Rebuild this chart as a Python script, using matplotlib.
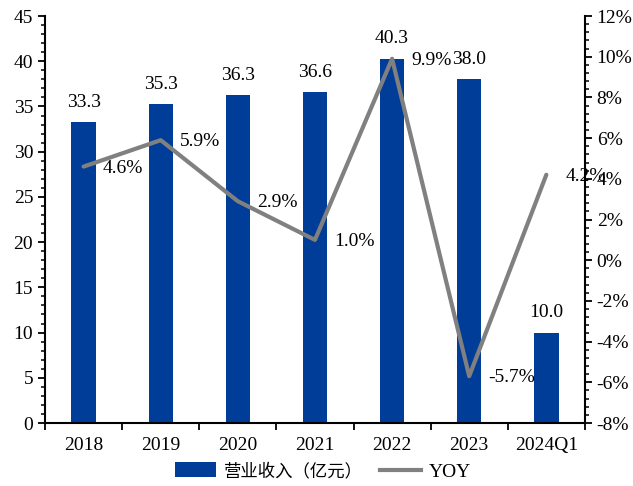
import matplotlib
matplotlib.use("Agg")
import matplotlib.pyplot as plt
from matplotlib.ticker import MultipleLocator, FuncFormatter
from matplotlib.patches import Patch
from matplotlib.lines import Line2D

# ---------------------------------------------------------
# data
# ---------------------------------------------------------
years = ["2018", "2019", "2020", "2021", "2022", "2023", "2024Q1"]
revenue = [33.3, 35.3, 36.3, 36.6, 40.3, 38.0, 10.0]
yoy = [4.6, 5.9, 2.9, 1.0, 9.9, -5.7, 4.2]

plt.rcParams["font.family"] = ["Liberation Serif", "Noto Sans CJK SC"]
plt.rcParams["font.size"] = 14

bar_color = "#003D99"
line_color = "#808080"

fig = plt.figure(figsize=(6.33, 4.86), dpi=100)
ax = fig.add_axes([0.0711, 0.1296, 0.8529, 0.8374])
ax2 = ax.twinx()

x = list(range(len(years)))

# ---------------------------------------------------------
# bars (left axis)
# ---------------------------------------------------------
ax.bar(x, revenue, width=0.316, color=bar_color, zorder=2)
for xi, v in zip(x, revenue):
    ax.annotate(f"{v:.1f}", (xi, v), xytext=(0, 8), textcoords="offset points",
                ha="center", va="bottom", fontsize=14)

ax.set_ylim(0, 45)
ax.set_xlim(-0.5, len(years) - 0.5)
ax.yaxis.set_major_locator(MultipleLocator(5))
ax.yaxis.set_minor_locator(MultipleLocator(1))
ax.set_xticks(x)
ax.set_xticklabels(years)
ax.set_xticks([i - 0.5 for i in range(len(years) + 1)], minor=True)
ax.tick_params(axis="x", which="major", length=0, pad=10, labelsize=14)
ax.tick_params(axis="x", which="minor", length=5, width=1.3, direction="out")
ax.tick_params(axis="y", which="major", length=5, width=1.3, direction="out",
               labelsize=14)
ax.tick_params(axis="y", which="minor", length=3, width=1.1, direction="out")

# ---------------------------------------------------------
# YOY line (right axis)
# ---------------------------------------------------------
ax2.plot(x, yoy, color=line_color, linewidth=3.0, solid_capstyle="round", zorder=3)
for xi, v in zip(x, yoy):
    ax2.annotate(f"{v:.1f}%", (xi, v), xytext=(14, -1), textcoords="offset points",
                 ha="left", va="center", fontsize=14)

ax2.set_ylim(-8, 12)
ax2.yaxis.set_major_locator(MultipleLocator(2))
ax2.yaxis.set_minor_locator(MultipleLocator(0.4))
ax2.yaxis.set_major_formatter(FuncFormatter(lambda v, p: f"{v:.0f}%"))
ax2.tick_params(axis="y", which="major", length=5, width=1.3, direction="out",
                labelsize=14)
ax2.tick_params(axis="y", which="minor", length=3, width=1.1, direction="out")

for a in (ax, ax2):
    a.spines["top"].set_visible(False)
    for s in ("left", "right", "bottom"):
        a.spines[s].set_linewidth(1.5)
        a.spines[s].set_color("black")
ax.spines["right"].set_visible(False)
ax2.spines["left"].set_visible(False)
ax2.spines["bottom"].set_visible(False)

# ---------------------------------------------------------
# legend
# ---------------------------------------------------------
handles = [Patch(facecolor=bar_color),
           Line2D([0], [0], color=line_color, linewidth=3.0)]
leg = fig.legend(handles, ["营业收入（亿元）", "YOY"], loc="lower center",
                 bbox_to_anchor=(0.51, -0.025), ncol=2, frameon=False,
                 handlelength=2.1, handleheight=0.8, handletextpad=0.4,
                 columnspacing=0.9, fontsize=14)
leg.get_texts()[0].set_fontsize(12.5)

fig.savefig("out.png", dpi=100)
